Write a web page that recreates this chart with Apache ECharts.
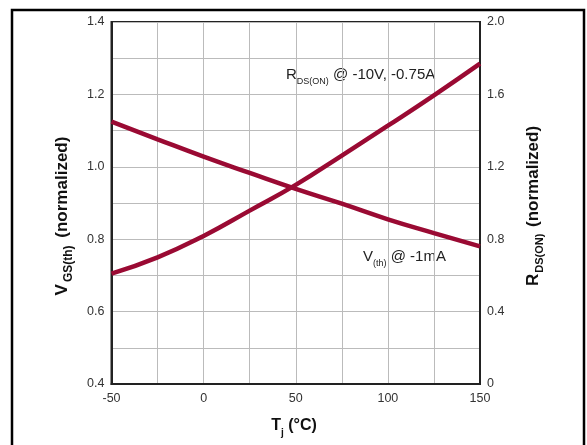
<!DOCTYPE html>
<html>
<head>
<meta charset="utf-8">
<script src="https://cdn.jsdelivr.net/npm/echarts@6/dist/echarts.min.js"></script>
<style>html,body{margin:0;padding:0;background:#fff}#c{width:587px;height:445px}</style>
</head>
<body>
<div id="c"></div>
<script>
const temps = [-50, -25, 0, 25, 50, 75, 100, 125, 150];
const vthValues = [1.125, 1.076, 1.028, 0.983, 0.939, 0.898, 0.855, 0.817, 0.78];
const rdsValues = [0.61, 0.70, 0.818, 0.958, 1.10, 1.262, 1.427, 1.595, 1.77];
const xTickLabels = ['-50', '0', '50', '100', '150'];
const leftTickLabels = ['0.4', '0.6', '0.8', '1.0', '1.2', '1.4'];
const rightTickLabels = ['0', '0.4', '0.8', '1.2', '1.6', '2.0'];

const curveColor = '#9a0a33';
const labelColor = '#333';
const font = 'Liberation Sans, Arial, sans-serif';

const chart = echarts.init(document.getElementById('c'), null, {renderer: 'canvas'});
const option = {
  animation: false,
  backgroundColor: '#fff',
  grid: {left: 111.5, right: 107, top: 22, bottom: 61, show: true, borderColor: '#222', borderWidth: 2, containLabel: false},
  xAxis: {
    type: 'value', min: -50, max: 150, interval: 25,
    axisLine: {show: true, onZero: false, lineStyle: {color: '#222', width: 2}},
    axisTick: {show: false},
    splitLine: {show: true, lineStyle: {color: '#bbbbbb', width: 1}},
    axisLabel: {
      color: labelColor, fontSize: 12.5, fontFamily: font, margin: 8,
      formatter: v => { const s = String(v); return xTickLabels.includes(s) ? s : ''; }
    }
  },
  yAxis: [{
    type: 'value', min: 0.4, max: 1.4, interval: 0.1,
    axisLine: {show: true, onZero: false, lineStyle: {color: '#222', width: 2}},
    axisTick: {show: false},
    splitLine: {show: true, lineStyle: {color: '#bbbbbb', width: 1}},
    axisLabel: {
      color: labelColor, fontSize: 12.5, fontFamily: font, margin: 7,
      formatter: v => { const s = v.toFixed(1); return leftTickLabels.includes(s) ? s : ''; }
    }
  }, {
    type: 'value', min: 0, max: 2.0, interval: 0.4, position: 'right',
    axisLine: {show: true, onZero: false, lineStyle: {color: '#222', width: 2}},
    axisTick: {show: false},
    splitLine: {show: false},
    axisLabel: {
      color: labelColor, fontSize: 12.5, fontFamily: font, margin: 7,
      formatter: v => { const s = Math.abs(v) < 1e-9 ? '0' : v.toFixed(1); return rightTickLabels.includes(s) ? s : ''; }
    }
  }],
  series: [{
    type: 'line', name: 'Vth', yAxisIndex: 0, smooth: true, symbol: 'none',
    lineStyle: {color: curveColor, width: 4.5},
    data: temps.map((t, i) => [t, vthValues[i]])
  }, {
    type: 'line', name: 'RDS', yAxisIndex: 1, smooth: true, symbol: 'none',
    lineStyle: {color: curveColor, width: 4.5},
    data: temps.map((t, i) => [t, rdsValues[i]])
  }],
  graphic: [
    {type: 'rect', shape: {x: 12, y: 10, width: 572, height: 460}, style: {fill: 'none', stroke: '#000', lineWidth: 2.5}, silent: true},
    {type: 'text', x: 62, y: 216, rotation: Math.PI / 2,
     style: {text: '{m|V}{s|GS(th)}{m| (normalized)}', align: 'center', verticalAlign: 'middle', fontFamily: font,
       rich: {m: {fontSize: 17, fontWeight: 'bold', lineHeight: 25, fill: '#111', fontFamily: font},
              s: {fontSize: 12, fontWeight: 'bold', lineHeight: 25, verticalAlign: 'bottom', padding: [0, 3, 0, 2], fill: '#111', fontFamily: font}}}},
    {type: 'text', x: 533, y: 206, rotation: Math.PI / 2,
     style: {text: '{m|R}{s|DS(ON)}{m| (normalized)}', align: 'center', verticalAlign: 'middle', fontFamily: font,
       rich: {m: {fontSize: 17, fontWeight: 'bold', lineHeight: 25, fill: '#111', fontFamily: font},
              s: {fontSize: 11, fontWeight: 'bold', lineHeight: 25, verticalAlign: 'bottom', padding: [0, 2, 0, 1], fill: '#111', fontFamily: font}}}},
    {type: 'text', x: 294, y: 426,
     style: {text: '{m|T}{s|j}{m| (°C)}', align: 'center', verticalAlign: 'middle', fontFamily: font,
       rich: {m: {fontSize: 16, fontWeight: 'bold', lineHeight: 24, fill: '#111', fontFamily: font},
              s: {fontSize: 10, fontWeight: 'bold', lineHeight: 24, verticalAlign: 'bottom', fill: '#111', fontFamily: font}}}},
    {type: 'text', x: 286, y: 75,
     style: {text: '{m|R}{s|DS(ON)}{m| @ -10V, -0.75A}', align: 'left', verticalAlign: 'middle', fontFamily: font,
       rich: {m: {fontSize: 15, lineHeight: 22, fill: '#222', fontFamily: font},
              s: {fontSize: 9, lineHeight: 22, verticalAlign: 'bottom', fill: '#222', fontFamily: font}}}},
    {type: 'text', x: 363, y: 257,
     style: {text: '{m|V}{s|(th)}{m| @ -1mA}', align: 'left', verticalAlign: 'middle', fontFamily: font,
       rich: {m: {fontSize: 15, lineHeight: 22, fill: '#222', fontFamily: font},
              s: {fontSize: 9, lineHeight: 22, verticalAlign: 'bottom', fill: '#222', fontFamily: font}}}}
  ]
};
chart.setOption(option);
</script>
</body>
</html>
